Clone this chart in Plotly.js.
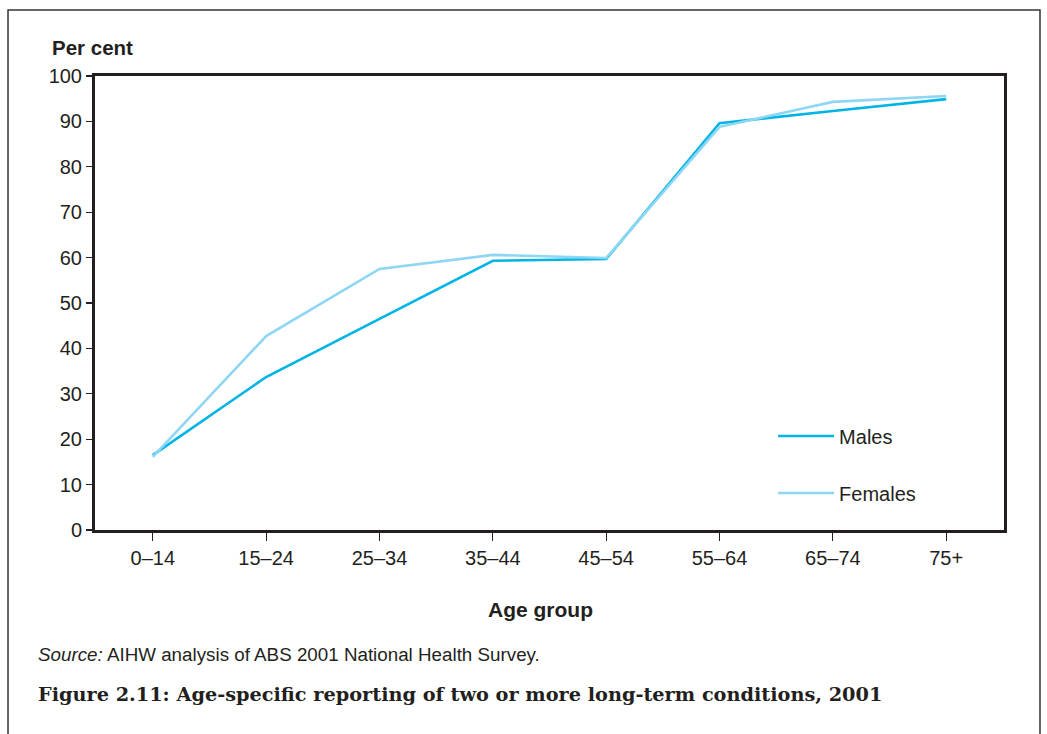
<!DOCTYPE html>
<html>
<head>
<meta charset="utf-8">
<script src="https://cdn.plot.ly/plotly-3.0.1.min.js"></script>
<style>
html,body{margin:0;padding:0;background:#fff;}
#chart{width:1047px;height:734px;}
</style>
</head>
<body>
<div id="chart"></div>
<script>
const ageGroups = ['0–14','15–24','25–34','35–44','45–54','55–64','65–74','75+'];
const males   = [16.5, 33.7, 46.5, 59.3, 59.7, 89.6, 92.3, 94.9];
const females = [16.1, 42.7, 57.5, 60.6, 59.9, 88.8, 94.3, 95.6];
const yTicks = [0,10,20,30,40,50,60,70,80,90,100];

const FONT = 'Liberation Sans, Arial, sans-serif';
const INK = '#231f20';

const traces = [
  {x: ageGroups, y: males, type: 'scatter', mode: 'lines', name: 'Males',
   line: {color: '#00b4e6', width: 2.6}, legendgroup: 'm'},
  {x: ageGroups, y: females, type: 'scatter', mode: 'lines', name: 'Females',
   line: {color: '#8dd6f4', width: 2.6}, legendgroup: 'f'}
];

const layout = {
  width: 1047, height: 734,
  margin: {l: 95, r: 43, t: 76, b: 204},
  paper_bgcolor: '#fff', plot_bgcolor: '#fff',
  font: {family: FONT, color: INK, size: 20},
  showlegend: true,
  legend: {x: 0.746, y: 0.25, xanchor: 'left', yanchor: 'top',
           font: {size: 20, color: INK}, tracegroupgap: 28,
           itemwidth: 56, bgcolor: 'rgba(0,0,0,0)'},
  xaxis: {type: 'category', range: [-0.51, 7.51], showgrid: false, zeroline: false,
          showline: true, mirror: true, linewidth: 3, linecolor: INK,
          ticks: 'outside', ticklen: 8, tickwidth: 1.2, tickcolor: INK,
          tickfont: {size: 20, color: INK}, fixedrange: true},
  yaxis: {range: [0, 100], tickvals: yTicks, showgrid: false, zeroline: false,
          showline: true, mirror: true, linewidth: 3, linecolor: INK,
          ticks: 'outside', ticklen: 6, tickwidth: 1.2, tickcolor: INK,
          tickfont: {size: 20, color: INK}, fixedrange: true},
  annotations: [
    {text: '<b>Per cent</b>', xref: 'paper', yref: 'paper', x: -0.0495, y: 1.0617,
     xanchor: 'left', yanchor: 'middle', showarrow: false, font: {size: 20.5, color: INK}},
    {text: '<b>Age group</b>', xref: 'paper', yref: 'paper', x: 0.4906, y: -0.1762,
     xanchor: 'center', yanchor: 'middle', showarrow: false, font: {size: 21, color: INK}},
    {text: '<i>Source:</i> AIHW analysis of ABS 2001 National Health Survey.', xref: 'paper', yref: 'paper',
     x: -0.0649, y: -0.2753, xanchor: 'left', yanchor: 'middle', showarrow: false,
     font: {size: 18.8, color: INK}},
    {text: '<b>Figure 2.11: Age-specific reporting of two or more long-term conditions, 2001</b>',
     xref: 'paper', yref: 'paper', x: -0.0649, y: -0.3634, xanchor: 'left', yanchor: 'middle',
     showarrow: false, font: {size: 19.3, color: INK, family: 'DejaVu Serif, Liberation Serif, serif'}}
  ],
  shapes: [
    {type: 'rect', xref: 'paper', yref: 'paper', x0: -0.0957, x1: 1.0396, y0: -0.48, y1: 1.1454,
     line: {color: '#333', width: 1.5}, fillcolor: 'rgba(0,0,0,0)', layer: 'above'}
  ]
};

Plotly.newPlot('chart', traces, layout, {displayModeBar: false, staticPlot: true});
</script>
</body>
</html>
